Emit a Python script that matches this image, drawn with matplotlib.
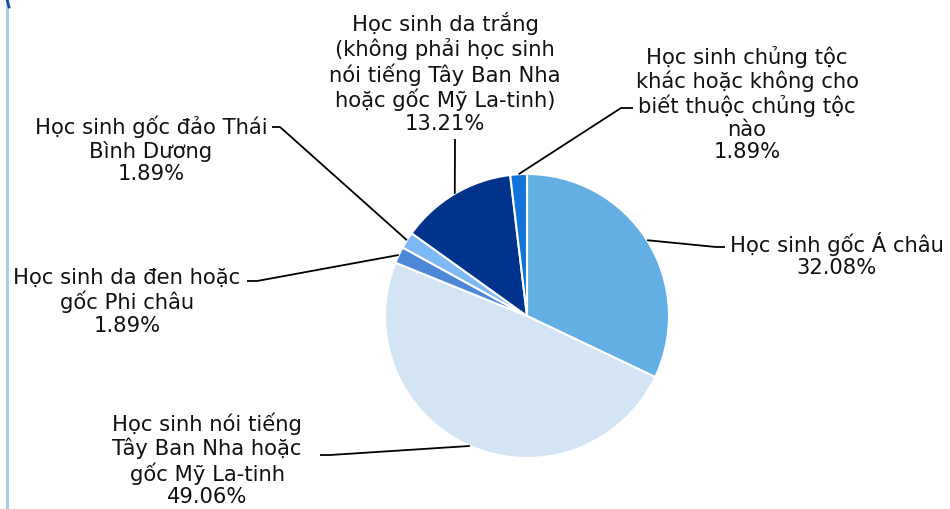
import numpy as np
import matplotlib.pyplot as plt

labels = [
    "Học sinh gốc Á châu",
    "Học sinh nói tiếng\nTây Ban Nha hoặc\ngốc Mỹ La-tinh",
    "Học sinh da đen hoặc\ngốc Phi châu",
    "Học sinh gốc đảo Thái\nBình Dương",
    "Học sinh da trắng\n(không phải học sinh\nnói tiếng Tây Ban Nha\nhoặc gốc Mỹ La-tinh)",
    "Học sinh chủng tộc\nkhác hoặc không cho\nbiết thuộc chủng tộc\nnào",
]
values = [32.08, 49.06, 1.89, 1.89, 13.21, 1.89]
colors = ["#63afe3", "#d3e5f5", "#4d88d6", "#7db9f7", "#00338c", "#1473d9"]

# layout in image pixels (y from top): text centre, elbow point, line end
text_pos = [(837, 255), (207, 460), (127, 302), (151, 150), (445, 73), (747, 104)]
elbows = [(716, 248), (330, 456), (257, 282), (280, 128), (455, 140), (621, 109)]
ends = [(725, 248), (320, 456), (247, 282), (272, 128), (455, 140), (633, 109)]

W, H = 950, 510
cx, cy, r = 527, 317, 142

fig = plt.figure(figsize=(9.5, 5.1), dpi=100)
ax = fig.add_axes([0, 0, 1, 1])

wedges, _ = ax.pie(values, colors=colors, startangle=90, counterclock=False,
                   center=(cx, H - cy), radius=r, frame=True,
                   wedgeprops=dict(edgecolor="white", linewidth=1.5))
ax.set_xlim(0, W)
ax.set_ylim(0, H)
ax.axis("off")

for w, lab, v, tp, el, en in zip(wedges, labels, values, text_pos, elbows, ends):
    ang = np.deg2rad((w.theta1 + w.theta2) / 2)
    x0 = cx + r * np.cos(ang)
    y0 = (H - cy) + r * np.sin(ang)
    ax.plot([x0, el[0], en[0]], [y0, H - el[1], H - en[1]], color="black", lw=1.3,
            solid_capstyle="butt")
    ax.text(tp[0], H - tp[1], f"{lab}\n{v:.2f}%", ha="center", va="center",
            fontsize=15.2, family="DejaVu Sans", linespacing=1.16, color="#111111")

# left edge border
ax.plot([6.5, 6.5], [0, H], color="#a4c8ec", lw=2)
ax.plot([7, 9], [H, H - 8], color="#1a4fa0", lw=2)

fig.savefig("out.png", dpi=100)
